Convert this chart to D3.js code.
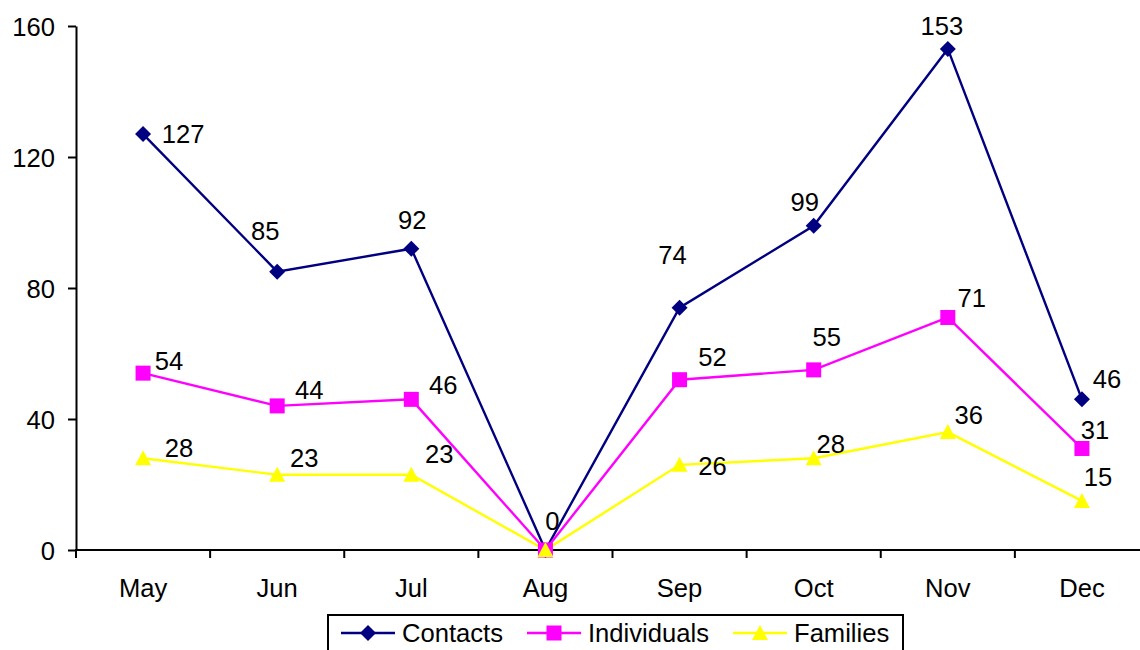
<!DOCTYPE html>
<html>
<head>
<meta charset="utf-8">
<script src="https://cdn.jsdelivr.net/npm/d3@7"></script>
<style>
  html, body { margin: 0; padding: 0; background: #fff; }
  svg { display: block; font-family: "Liberation Sans", Arial, sans-serif; }
</style>
</head>
<body>
<svg id="chart" width="1140" height="650"></svg>
<script>
// Monthly counts
const months = ["May", "Jun", "Jul", "Aug", "Sep", "Oct", "Nov", "Dec"];
const contacts = [127, 85, 92, 0, 74, 99, 153, 46];
const individuals = [54, 44, 46, 0, 52, 55, 71, 31];
const families = [28, 23, 23, 0, 26, 28, 36, 15];
const yTicks = [0, 40, 80, 120, 160];
const seriesNames = ["Contacts", "Individuals", "Families"];

// Label placement relative to each point (label centre minus point), in px
const labelShift = {
  Contacts:    [[40, 0], [-12, -41], [1, -29], [7, -29], [-7, -53], [-9, -24], [-6, -23], [25, -21]],
  Individuals: [[26, -12], [32, -16], [32, -15], null, [33, -23], [13, -33], [24, -20], [13, -19]],
  Families:    [[36, -11], [27, -17], [28, -21], null, [33, 1], [17, -15], [21, -17], [16, -24]]
};

const series = [
  { name: seriesNames[0], values: contacts, color: "#000080", symbol: "diamond" },
  { name: seriesNames[1], values: individuals, color: "#FF00FF", symbol: "square" },
  { name: seriesNames[2], values: families, color: "#FFFF00", symbol: "triangle" }
];

const svg = d3.select("#chart");
const fontSize = 25.6;

const x = d3.scaleBand().domain(months).range([76, 1149]).paddingInner(0).paddingOuter(0);
const y = d3.scaleLinear().domain([0, 160]).range([550, 26]);
const cx = m => x(m) + x.bandwidth() / 2;

// Y axis
const yAxis = svg.append("g")
  .attr("transform", "translate(76,0)")
  .call(d3.axisLeft(y).tickValues(yTicks).tickSize(8).tickSizeOuter(0).tickPadding(13));
yAxis.select(".domain").attr("stroke", "#000").attr("stroke-width", 2);
yAxis.selectAll(".tick line").attr("stroke", "#000").attr("stroke-width", 2);
yAxis.selectAll(".tick text")
  .attr("font-size", fontSize).attr("font-family", "Liberation Sans, Arial, sans-serif")
  .attr("fill", "#000").attr("dy", "0.36em");

// X axis: labels at band centres, tick marks at band boundaries
const xAxis = svg.append("g")
  .attr("transform", `translate(0,${y(0)})`)
  .call(d3.axisBottom(x).tickSize(0).tickPadding(29));
xAxis.select(".domain").remove();
xAxis.selectAll(".tick text")
  .attr("font-size", fontSize).attr("font-family", "Liberation Sans, Arial, sans-serif")
  .attr("fill", "#000");
svg.append("line")
  .attr("x1", 75).attr("x2", 1140).attr("y1", y(0)).attr("y2", y(0))
  .attr("stroke", "#000").attr("stroke-width", 2);
svg.append("g").selectAll("line").data(months).join("line")
  .attr("x1", m => x(m)).attr("x2", m => x(m))
  .attr("y1", y(0)).attr("y2", y(0) + 8)
  .attr("stroke", "#000").attr("stroke-width", 2);

// Marker shapes
function marker(sel, kind, color) {
  if (kind === "diamond") {
    sel.append("path").attr("d", "M0,-8L8,0L0,8L-8,0Z").attr("fill", color);
  } else if (kind === "square") {
    sel.append("rect").attr("x", -7.5).attr("y", -7.5).attr("width", 15).attr("height", 15).attr("fill", color);
  } else {
    sel.append("path").attr("d", "M0,-8L8,7L-8,7Z").attr("fill", color);
  }
}

const line = d3.line().x((d, i) => cx(months[i])).y(d => y(d));

series.forEach(s => {
  svg.append("path")
    .datum(s.values)
    .attr("d", line)
    .attr("fill", "none")
    .attr("stroke", s.color)
    .attr("stroke-width", 2.4);
});
series.forEach(s => {
  s.values.forEach((v, i) => {
    const g = svg.append("g").attr("transform", `translate(${cx(months[i])},${y(v)})`);
    marker(g, s.symbol, s.color);
  });
});

// Value labels
series.forEach(s => {
  s.values.forEach((v, i) => {
    const off = labelShift[s.name][i];
    if (!off) return;
    svg.append("text")
      .attr("x", cx(months[i]) + off[0])
      .attr("y", y(v) + off[1])
      .attr("dy", "0.36em")
      .attr("text-anchor", "middle")
      .attr("font-size", fontSize)
      .attr("fill", "#000")
      .text(v);
  });
});

// Legend
const legend = svg.append("g");
legend.append("rect")
  .attr("x", 328).attr("y", 615).attr("width", 575).attr("height", 40)
  .attr("fill", "#fff").attr("stroke", "#000").attr("stroke-width", 2);
const legendX = [341, 527, 733];
series.forEach((s, i) => {
  const lx = legendX[i];
  const g = legend.append("g");
  g.append("line")
    .attr("x1", lx).attr("x2", lx + 54).attr("y1", 633).attr("y2", 633)
    .attr("stroke", s.color).attr("stroke-width", 2.4);
  const mg = g.append("g").attr("transform", `translate(${lx + 27},633)`);
  marker(mg, s.symbol, s.color);
  g.append("text")
    .attr("x", lx + 61).attr("y", 633).attr("dy", "0.36em")
    .attr("font-size", fontSize).attr("fill", "#000")
    .text(s.name);
});
</script>
</body>
</html>
